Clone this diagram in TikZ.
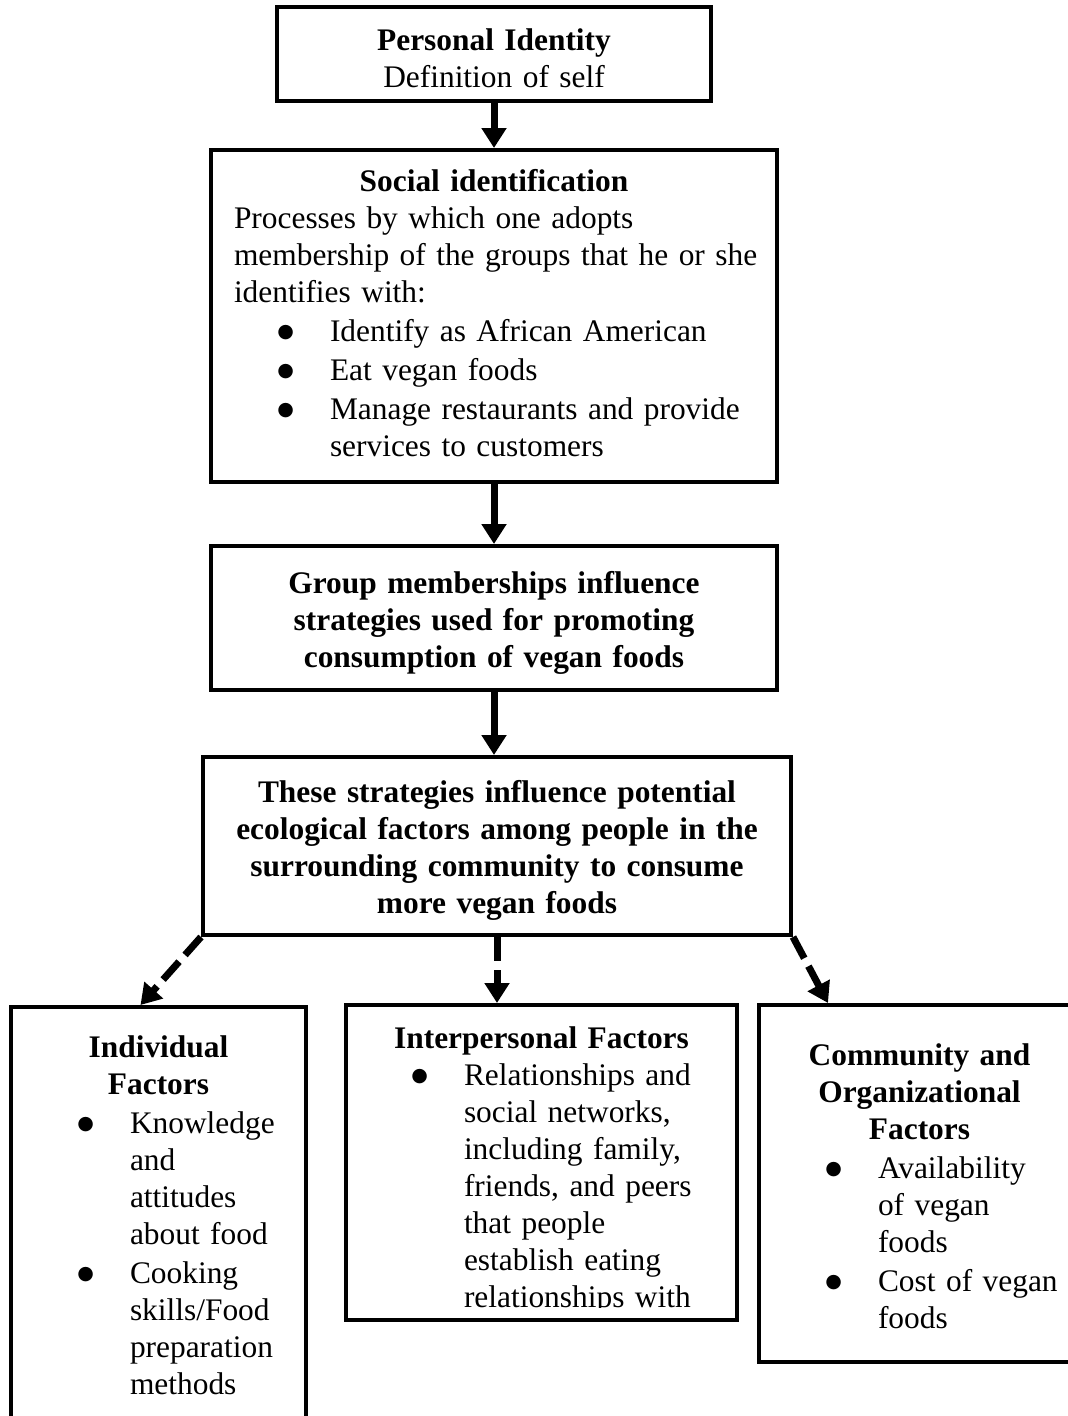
\documentclass[tikz,border=0pt]{standalone}
\usepackage{fontspec}
\setmainfont{Liberation Serif}
\newfontfamily\dejavu{DejaVu Sans}
\usetikzlibrary{arrows.meta,positioning}

\newcommand{\bfont}{\fontsize{31.4}{37}\selectfont}
\newcommand{\bul}{\noindent\llap{\raisebox{4pt}{\dejavu\fontsize{19}{0}\selectfont ●}\hspace{36pt}}}
\newcommand{\lowerby}[1]{\par\vspace{-#1}}

\begin{document}
\begin{tikzpicture}[x=1pt,y=-1pt,
    box/.style={draw,line width=4pt,font=\bfont,align=left,inner ysep=0pt,inner xsep=20pt},
    down/.style={execute at end node={\lowerby{#1}}},
    arr/.style={line width=7pt,-{Triangle[width=24pt,length=20pt]}},
    darr/.style={arr,dash pattern=on 24pt off 9pt}]
  \useasboundingbox (0,0) rectangle (1068,1416);
  \clip (0,0) rectangle (1068,1416);

  \node[box,down=9pt,align=center,text width=394pt,minimum height=94pt] (pid) at (494,54)
    {\textbf{Personal Identity}\\ Definition of self};
  \node[box,down=-5pt,text width=520pt,inner xsep=23pt,minimum height=332pt] (soc) at (494,316)
    {{\centering\bfseries Social identification\par}
     \noindent Processes by which one adopts\\ \mbox{membership of the groups that he or she}\\ identifies with:\par
     {\leftskip=96pt \parskip=2pt
      \bul Identify as African American\par
      \bul Eat vegan foods\par
      \bul Manage restaurants and provide\\ services to customers\par}};
  \node[box,down=9pt,align=center,text width=526pt,minimum height=144pt] (grp) at (494,618)
    {\bfseries Group memberships influence\\ strategies used for promoting\\ consumption of vegan foods};
  \node[box,down=9pt,align=center,text width=548pt,minimum height=178pt] (strat) at (497,846)
    {\bfseries These strategies influence potential\\ ecological factors among people in the\\ surrounding community to consume\\ more vegan foods};

  \node[box,text width=255pt,minimum height=416pt] (indiv) at (158.5,1215)
    {{\centering\bfseries Individual\\ Factors\par}
     {\leftskip=99pt \parskip=2pt
      \bul Knowledge\\ and\\ attitudes\\ about food\par
      \bul Cooking\\ skills/Food\\ preparation\\ methods\par}};

  \begin{scope}
    \clip (346,1005) rectangle (737,1307);
    \node[box,down=7pt,draw=none,text width=351pt,minimum height=315pt] (intertxt) at (541.5,1167)
      {{\centering\bfseries Interpersonal Factors\par}
       {\leftskip=98pt
        \bul Relationships and\\ social networks,\\ including family,\\ friends, and peers\\
        that people\\ establish eating\\ relationships with\par}};
  \end{scope}
  \node[box,minimum width=391pt,minimum height=315pt] (inter) at (541.5,1162.5) {};

  \node[box,down=5pt,text width=291pt,inner xsep=15pt,minimum height=357pt] (comm) at (919.5,1183.5)
    {{\centering\bfseries Community and\\ Organizational\\ Factors\par}
     {\leftskip=104pt \parskip=2pt
      \bul Availability\\ of vegan\\ foods\par
      \bul Cost of vegan\\ foods\par}};

  \draw[arr] (pid.south) -- (soc.north);
  \draw[arr] (soc.south) -- (grp.north);
  \draw[arr] (grp.south) -- (grp.south |- strat.north);
  \draw[darr] (strat.south west) -- ([xshift=-18pt]indiv.north);
  \draw[darr] (strat.south) -- (strat.south |- inter.north);
  \draw[darr] (strat.south east) -- ([xshift=71pt]comm.north west);
\end{tikzpicture}
\end{document}
